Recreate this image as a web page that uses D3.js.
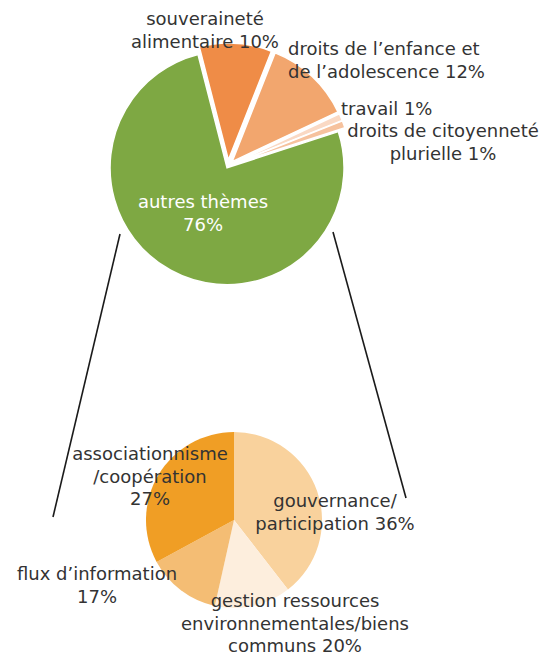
<!DOCTYPE html>
<html>
<head>
<meta charset="utf-8">
<script src="https://cdn.jsdelivr.net/npm/d3@7"></script>
<style>
  body { margin: 0; background: #fff; }
  text { font-family: "DejaVu Sans", sans-serif; font-size: 18px; fill: #333; }
</style>
</head>
<body>
<svg width="555" height="655"></svg>
<script>
// top pie: themes
var topNames = ["souveraineté alimentaire", "droits de l'enfance", "travail", "droits de citoyenneté plurielle", "autres thèmes"];
var topValues = [10, 12, 1, 1, 76];
var topColors = ["#ef8c47", "#f2a66e", "#fad9c4", "#f6c29e", "#7ea843"];
var topExplode = [6, 6, 6, 6, 2];

// bottom pie: breakdown of "autres thèmes"
var subNames = ["gouvernance/participation", "gestion ressources environnementales/biens communs", "flux d'information", "associationnisme/coopération"];
var subLabels = [36, 20, 17, 27];          // percentages printed on the chart
var subSlices = [39.5, 14, 13.6, 32.9];    // slice sizes as drawn in the picture
var subColors = ["#f9d29d", "#fdeedd", "#f4bd74", "#f09e25"];

var svg = d3.select("svg");
var deg = Math.PI / 180;

// connector lines
var links = [[[120, 234], [53, 517]], [[333, 232], [406, 498]]];
svg.selectAll("line.link")
  .data(links)
  .enter().append("line")
    .attr("class", "link")
    .attr("x1", function(d) { return d[0][0]; })
    .attr("y1", function(d) { return d[0][1]; })
    .attr("x2", function(d) { return d[1][0]; })
    .attr("y2", function(d) { return d[1][1]; })
    .attr("stroke", "#1a1a1a")
    .attr("stroke-width", 1.6);

// top pie
var topPie = d3.pie().sort(null).startAngle(-14.4 * deg).endAngle(345.6 * deg);
var topArc = d3.arc().innerRadius(0).outerRadius(117);

var gTop = svg.append("g").attr("transform", "translate(228,166)");
gTop.selectAll("path")
  .data(topPie(topValues))
  .enter().append("path")
    .attr("d", topArc)
    .attr("fill", function(d, i) { return topColors[i]; })
    .attr("stroke", "#fff")
    .attr("stroke-width", 1.5)
    .attr("transform", function(d, i) {
      var a = (d.startAngle + d.endAngle) / 2;
      return "translate(" + Math.sin(a) * topExplode[i] + "," + (-Math.cos(a) * topExplode[i]) + ")";
    });

// bottom pie
var subPie = d3.pie().sort(null);
var subArc = d3.arc().innerRadius(0).outerRadius(88);

var gSub = svg.append("g").attr("transform", "translate(234,520)");
gSub.selectAll("path")
  .data(subPie(subSlices))
  .enter().append("path")
    .attr("d", subArc)
    .attr("fill", function(d, i) { return subColors[i]; });

// labels
var labels = [
  { x: 205, y: 25, a: "middle", t: ["souveraineté", "alimentaire " + topValues[0] + "%"] },
  { x: 288, y: 55, a: "start", t: ["droits de l\u2019enfance et", "de l\u2019adolescence " + topValues[1] + "%"] },
  { x: 341, y: 115, a: "start", t: ["travail " + topValues[2] + "%"] },
  { x: 443, y: 137, a: "middle", t: ["droits de citoyenneté", "plurielle " + topValues[3] + "%"] },
  { x: 203, y: 208, a: "middle", t: ["autres thèmes", topValues[4] + "%"], c: "#fff" },
  { x: 150, y: 460, a: "middle", t: ["associationnisme", "/coopération", subLabels[3] + "%"] },
  { x: 335, y: 507, a: "middle", t: ["gouvernance/", "participation " + subLabels[0] + "%"] },
  { x: 97, y: 580, a: "middle", t: ["flux d\u2019information", subLabels[2] + "%"] },
  { x: 295, y: 607, a: "middle", t: ["gestion ressources", "environnementales/biens", "communs " + subLabels[1] + "%"] }
];

labels.forEach(function(l) {
  var txt = svg.append("text")
    .attr("x", l.x)
    .attr("y", l.y)
    .attr("text-anchor", l.a)
    .style("fill", l.c || "#333");
  l.t.forEach(function(s, i) {
    txt.append("tspan")
      .attr("x", l.x)
      .attr("dy", i ? 22.5 : 0)
      .text(s);
  });
});
</script>
</body>
</html>
